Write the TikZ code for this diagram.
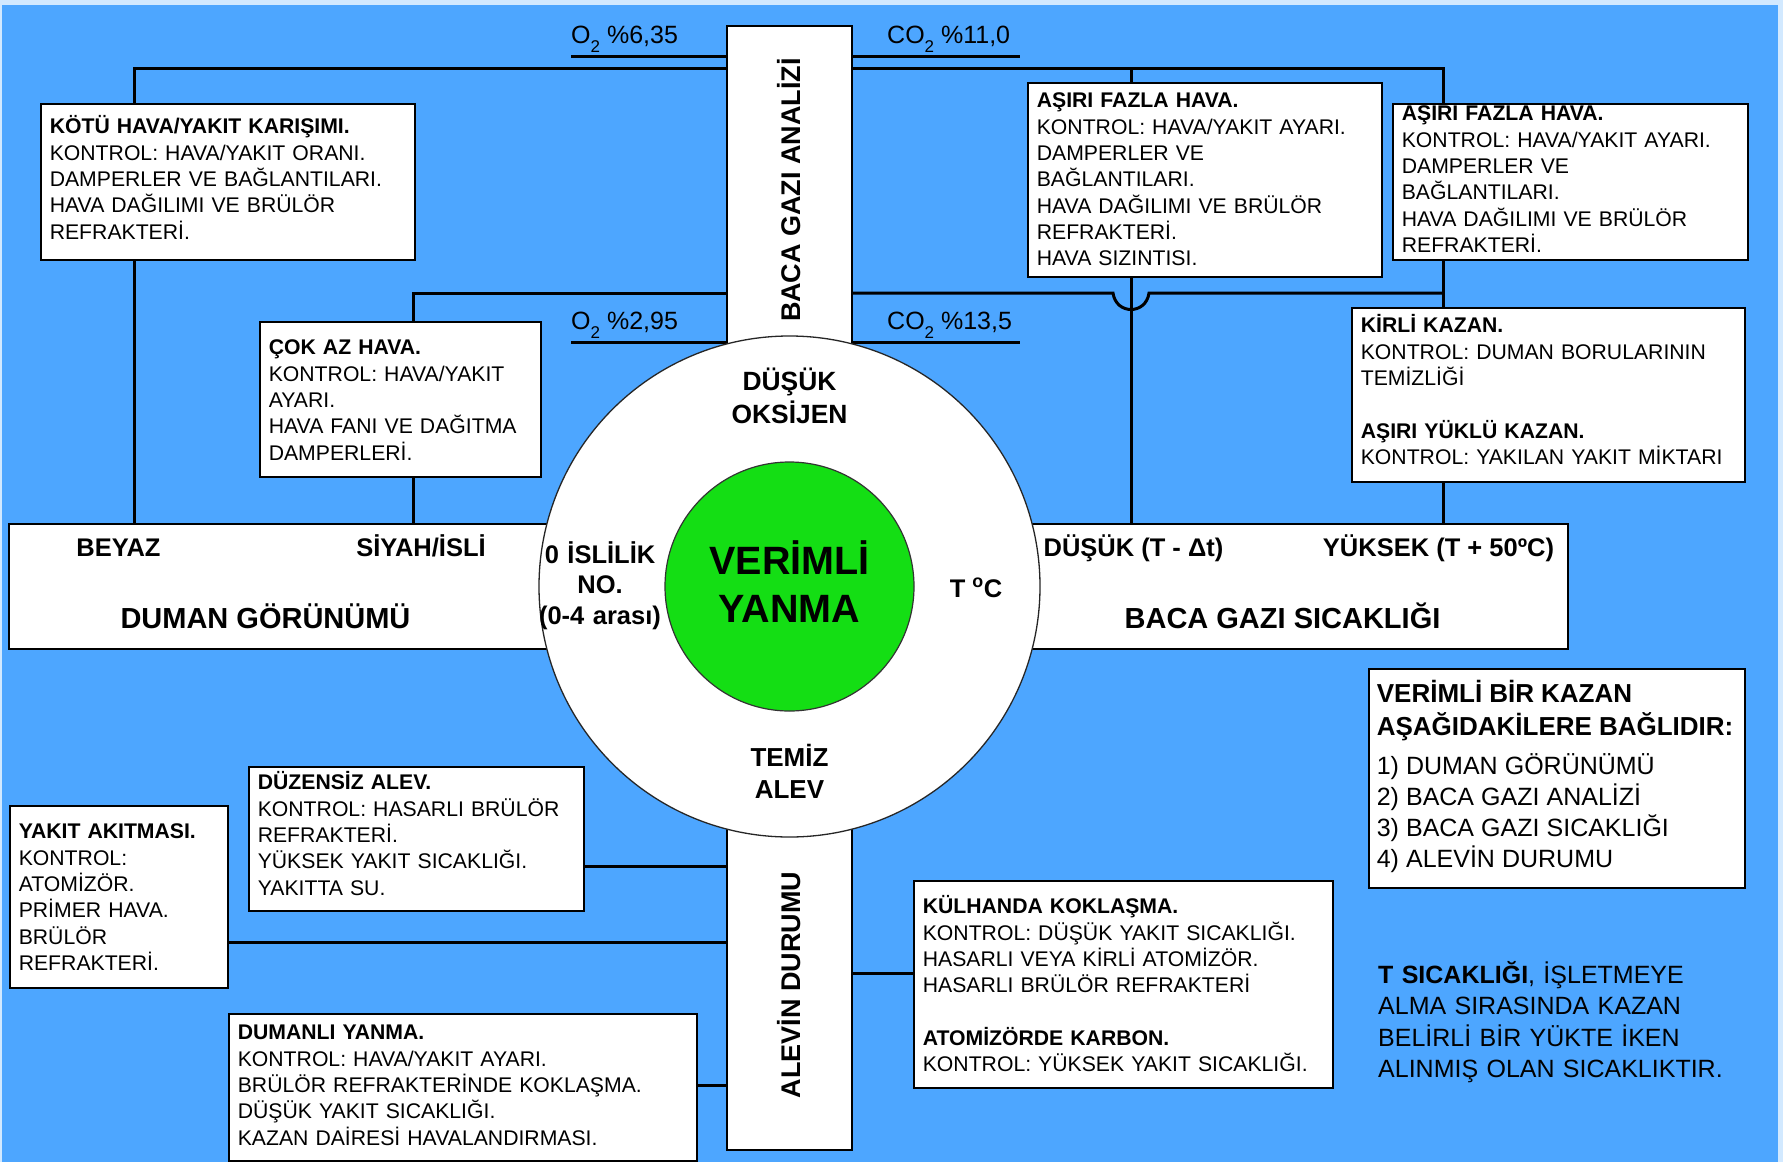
\documentclass[tikz,border=0pt]{standalone}
\usepackage{fontspec}
\setmainfont{Liberation Sans}
\definecolor{zemin}{RGB}{77,166,255}
\definecolor{kenar}{RGB}{210,233,255}
\definecolor{yesil}{RGB}{20,222,20}
\pgfdeclarelayer{arka}
\pgfdeclarelayer{hat}
\pgfsetlayers{arka,hat,main}
\newcommand{\kucuk}{\fontsize{21.2}{26.3}\selectfont}
\newcommand{\orta}{\fontsize{25.5}{31}\selectfont\bfseries}
\newcommand{\alt}{\raisebox{-9pt}{\fontsize{17}{17}\selectfont 2}}

\begin{document}
\begin{tikzpicture}[x=1pt,y=-1pt,
  kutu/.style={draw=black,line width=1.6pt,fill=white,anchor=north west,align=left,inner xsep=9pt,inner ysep=0pt,font=\kucuk},
  alan/.style={draw=black,line width=1.6pt,fill=white,inner sep=0pt},
  serit/.style={alan,minimum width=125pt},
  cizgi/.style={line width=3pt},
  etiket/.style={anchor=base,inner sep=0pt,font=\orta},
  oran/.style={anchor=base west,inner sep=0pt,font=\fontsize{25}{25}\selectfont}]

\begin{pgfonlayer}{arka}
\fill[kenar] (0,0) rectangle (1783,1162);
\fill[zemin] (2,5) rectangle (1778,1162);
\end{pgfonlayer}
\useasboundingbox (0,0) rectangle (1783,1162);

% seritler ve olcum kutulari
\node[serit,minimum height=328pt] (bacabar) at (789.5,190) {};
\node[serit,minimum height=330pt] (alevbar) at (789.5,985) {};
\node[alan,minimum width=631pt,minimum height=125pt] (duman) at (324.5,586.5) {};
\node[alan,minimum width=618pt,minimum height=125pt] (sicak) at (1259,586.5) {};

\node[rotate=90,inner sep=0pt,font=\fontsize{27}{27}\selectfont\bfseries] (bacayazi) at (bacabar.center) {BACA GAZI ANALİZİ};
\node[rotate=90,inner sep=0pt,font=\fontsize{27}{27}\selectfont\bfseries] (alevyazi) at (alevbar.center) {ALEVİN DURUMU};

% aciklama kutulari
\node[kutu,text width=356pt,text height=30pt,text depth=126pt] (kotu) at (40,103)
  {\textbf{KÖTÜ HAVA/YAKIT KARIŞIMI.}\\KONTROL: HAVA/YAKIT ORANI.\\DAMPERLER VE BAĞLANTILARI.\\HAVA DAĞILIMI VE BRÜLÖR\\REFRAKTERİ.};
\node[kutu,text width=263pt,text height=33pt,text depth=122pt] (cokaz) at (259,321)
  {\textbf{ÇOK AZ HAVA.}\\KONTROL: HAVA/YAKIT\\AYARI.\\HAVA FANI VE DAĞITMA\\DAMPERLERİ.};
\node[kutu,text width=336pt,text height=25pt,text depth=169pt] (asiri1) at (1027,82)
  {\textbf{AŞIRI FAZLA HAVA.}\\KONTROL: HAVA/YAKIT AYARI.\\DAMPERLER VE\\BAĞLANTILARI.\\HAVA DAĞILIMI VE BRÜLÖR\\REFRAKTERİ.\\HAVA SIZINTISI.};
\node[kutu,text width=337pt,text height=17pt,text depth=139pt] (asiri2) at (1392,103)
  {\textbf{AŞIRI FAZLA HAVA.}\\KONTROL: HAVA/YAKIT AYARI.\\DAMPERLER VE\\BAĞLANTILARI.\\HAVA DAĞILIMI VE BRÜLÖR\\REFRAKTERİ.};
\node[kutu,text width=375pt,text height=25pt,text depth=149pt] (kirli) at (1351,307)
  {\textbf{KİRLİ KAZAN.}\\KONTROL: DUMAN BORULARININ\\TEMİZLİĞİ\\[26.3pt]\textbf{AŞIRI YÜKLÜ KAZAN.}\\KONTROL: YAKILAN YAKIT MİKTARI};
\node[kutu,text width=317pt,text height=23pt,text depth=121pt] (duzensiz) at (248,766)
  {\textbf{DÜZENSİZ ALEV.}\\KONTROL: HASARLI BRÜLÖR\\REFRAKTERİ.\\YÜKSEK YAKIT SICAKLIĞI.\\YAKITTA SU.};
\node[kutu,text width=200pt,text height=33pt,text depth=149pt] (akitma) at (9,805)
  {\textbf{YAKIT AKITMASI.}\\KONTROL:\\ATOMİZÖR.\\PRİMER HAVA.\\BRÜLÖR\\REFRAKTERİ.};
\node[kutu,text width=450pt,text height=26pt,text depth=121pt] (dumanli) at (228,1013)
  {\textbf{DUMANLI YANMA.}\\KONTROL: HAVA/YAKIT AYARI.\\BRÜLÖR REFRAKTERİNDE KOKLAŞMA.\\DÜŞÜK YAKIT SICAKLIĞI.\\KAZAN DAİRESİ HAVALANDIRMASI.};
\node[kutu,text width=401pt,text height=33pt,text depth=174pt] (kulhan) at (913,880)
  {\textbf{KÜLHANDA KOKLAŞMA.}\\KONTROL: DÜŞÜK YAKIT SICAKLIĞI.\\HASARLI VEYA KİRLİ ATOMİZÖR.\\HASARLI BRÜLÖR REFRAKTERİ\\[26.3pt]\textbf{ATOMİZÖRDE KARBON.}\\KONTROL: YÜKSEK YAKIT SICAKLIĞI.};
\node[kutu,inner xsep=8pt,text width=360pt,text height=34pt,text depth=185pt] (kazan) at (1368,668)
  {{\fontsize{26}{33}\selectfont\bfseries VERİMLİ BİR KAZAN\\AŞAĞIDAKİLERE BAĞLIDIR:\par}
   \vspace{8pt}
   {\fontsize{25}{31}\selectfont 1) DUMAN GÖRÜNÜMÜ\\2) BACA GAZI ANALİZİ\\3) BACA GAZI SICAKLIĞI\\4) ALEVİN DURUMU\par}};
\node[anchor=base west,inner sep=0pt,text width=390pt,align=left,font=\fontsize{25}{31.5}\selectfont] (tnot) at (1378,983)
  {\textbf{T SICAKLIĞI}, İŞLETMEYE\\ALMA SIRASINDA KAZAN\\BELİRLİ BİR YÜKTE İKEN\\ALINMIŞ OLAN SICAKLIKTIR.};

% olcum degerleri
\node[oran] (o2ust) at (571,43) {O\alt\ \%6,35};
\node[oran] (co2ust) at (887,43) {CO\alt\ \%11,0};
\node[oran] (o2alt) at (571,329) {O\alt\ \%2,95};
\node[oran] (co2alt) at (887,329) {CO\alt\ \%13,5};

\node[etiket] (beyaz) at (118.5,556) {BEYAZ};
\node[etiket] (siyah) at (421,556) {SİYAH/İSLİ};
\node[etiket,font=\fontsize{29}{29}\selectfont\bfseries] (dumanyazi) at (265.5,628) {DUMAN GÖRÜNÜMÜ};
\node[etiket] (dusuk) at (1133.5,556) {DÜŞÜK (T - Δt)};
\node[etiket] (yuksek) at (1438.5,556) {YÜKSEK (T + 50ºC)};
\node[etiket,font=\fontsize{29}{29}\selectfont\bfseries] (sicakyazi) at (1282.5,628) {BACA GAZI SICAKLIĞI};

% baglanti cizgileri
\begin{pgfonlayer}{hat}
\coordinate (s1) at (134,68);
\coordinate (s2) at (413,293);
\coordinate (s3) at (1131,68);
\coordinate (s4) at (1443,68);
\coordinate (s5) at (1443,293);
\coordinate (k1) at (1113,293);
\coordinate (k2) at (1149,293);
\draw[cizgi] (bacabar.west |- s1) -| (duman.north -| s1);
\draw[cizgi] (bacabar.west |- s2) -| (duman.north -| s2);
\draw[cizgi] (bacabar.east |- s4) -| (sicak.north -| s4);
\draw[cizgi] (s3) -- (sicak.north -| s3);
\draw[cizgi] (bacabar.east |- s5) -- (k1) .. controls +(3,22) and +(-3,22) .. (k2) -- (s5);

\coordinate (a1) at (583,866);
\coordinate (a2) at (227,942);
\coordinate (a3) at (696,1085);
\coordinate (a4) at (913,973);
\draw[cizgi] (duzensiz.east |- a1) -- (alevbar.west |- a1);
\draw[cizgi] (akitma.east |- a2) -- (alevbar.west |- a2);
\draw[cizgi] (dumanli.east |- a3) -- (alevbar.west |- a3);
\draw[cizgi] (alevbar.east |- a4) -- (kulhan.west |- a4);

\coordinate (u1) at (571,56);
\coordinate (u2) at (1020,56);
\coordinate (u3) at (571,342);
\coordinate (u4) at (1020,342);
\draw[cizgi] (u1) -- (bacabar.west |- u1);
\draw[cizgi] (bacabar.east |- u2) -- (u2);
\draw[cizgi] (u3) -- (bacabar.west |- u3);
\draw[cizgi] (bacabar.east |- u4) -- (u4);
\end{pgfonlayer}

% merkez daireler
\node[circle,draw=black!85,line width=1.3pt,fill=white,minimum size=501pt,inner sep=0pt] (merkez) at (789.5,586.5) {};
\node[circle,draw=black!80,line width=1.2pt,fill=yesil,minimum size=249pt,inner sep=0pt] (verim) at (789.5,586.5) {};
\node[etiket,text width=230pt,align=center,font=\fontsize{39.5}{48}\selectfont\bfseries] (verimyazi) at (789.5,574) {VERİMLİ\\YANMA};
\node[etiket,text width=160pt,align=center,font=\fontsize{26.4}{33}\selectfont\bfseries] (oksijen) at (789.5,390) {DÜŞÜK\\OKSİJEN};
\node[etiket,text width=160pt,align=center,font=\fontsize{26}{32}\selectfont\bfseries] (temiz) at (789.5,766) {TEMİZ\\ALEV};
\node[etiket,text width=140pt,align=center,font=\fontsize{25.5}{30.5}\selectfont\bfseries] (islilik) at (600,563) {0 İSLİLİK\\NO.\\(0-4 arası)};
\node[etiket] (tc) at (976,597) {T \textsuperscript{o}C};
\end{tikzpicture}
\end{document}
